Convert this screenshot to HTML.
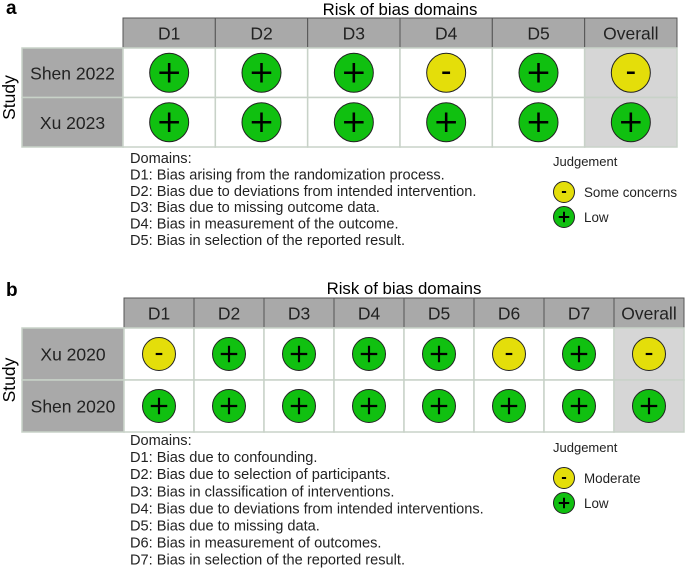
<!DOCTYPE html>
<html><head><meta charset="utf-8"><style>
body{margin:0;background:#fff;}
svg{display:block;font-family:"Liberation Sans",sans-serif;}
</style></head><body>
<svg id="s" width="685" height="570" viewBox="0 0 685 570"></svg>
<script>
const panelALabels=["D1","D2","D3","D4","D5","Overall"];
const panelAStudies=["Shen 2022","Xu 2023"];
const panelAJudgements=[["+","+","+","-","+","-"],["+","+","+","+","+","+"]];
const panelADomains=["Domains:","D1: Bias arising from the randomization process.","D2: Bias due to deviations from intended intervention.","D3: Bias due to missing outcome data.","D4: Bias in measurement of the outcome.","D5: Bias in selection of the reported result."];
const panelALegend=[["-","Some concerns"],["+","Low"]];
const panelBLabels=["D1","D2","D3","D4","D5","D6","D7","Overall"];
const panelBStudies=["Xu 2020","Shen 2020"];
const panelBJudgements=[["-","+","+","+","+","-","+","-"],["+","+","+","+","+","+","+","+"]];
const panelBDomains=["Domains:","D1: Bias due to confounding.","D2: Bias due to selection of participants.","D3: Bias in classification of interventions.","D4: Bias due to deviations from intended interventions.","D5: Bias due to missing data.","D6: Bias in measurement of outcomes.","D7: Bias in selection of the reported result."];
const panelBLegend=[["-","Moderate"],["+","Low"]];

const s=document.getElementById('s');
const NS="http://www.w3.org/2000/svg";
function el(tag,attrs,text){const e=document.createElementNS(NS,tag);for(const k in attrs)e.setAttribute(k,attrs[k]);if(text!==undefined)e.textContent=text;s.appendChild(e);return e;}
const col={"+":"#10c010","-":"#e4de0a"};
function symbol(cx,cy,r,j,name){
  const c=el('circle',{cx:cx,cy:cy,r:r,fill:col[j],stroke:"#222","stroke-width":1});
  
  
  if(j==="+"){
    const a=r*0.5, w=Math.max(2,r*0.13);
    const p=el('path',{d:`M${cx-a} ${cy}H${cx+a}M${cx} ${cy-a}V${cy+a}`,stroke:"#000","stroke-width":w});
    
    
  } else {
    const a=r*0.2, w=Math.max(2,r*0.13);
    const p=el('path',{d:`M${cx-a} ${cy}H${cx+a}`,stroke:"#000","stroke-width":w});
    
    
  }
}
function panel(o){
  const {id,labels,studies,judg,domains,legend,x0,x1,hy0,hy1,rowH,r,titleY,letterY,domY,domStep,legY}=o;
  const cw=(x1-x0)/labels.length;
  let t=el('text',{x:6,y:letterY,"font-size":19,"font-weight":"bold"},id);
  
  t=el('text',{x:(x0+x1)/2,y:titleY,"font-size":16.8,"text-anchor":"middle"},"Risk of bias domains");
  
  const yTop=hy1, yBot=hy1+rowH*studies.length;
  t=el('text',{x:0,y:0,"font-size":17.5,"text-anchor":"middle",transform:`translate(15,${(yTop+yBot)/2}) rotate(-90)`},"Study");
  
  labels.forEach((L,i)=>{
    const x=x0+i*cw;
    let rc=el('rect',{x:x,y:hy0,width:cw,height:hy1-hy0,fill:"#a9a9a9",stroke:"#555","stroke-width":1});
    
    let tt=el('text',{x:x+cw/2,y:(hy0+hy1)/2+6.5,"font-size":17.5,"text-anchor":"middle",fill:"#222"},L);
    
  });
  studies.forEach((S,ri)=>{
    const y=yTop+ri*rowH;
    let rc=el('rect',{x:22,y:y,width:x0-22,height:rowH,fill:"#a9a9a9",stroke:"#c8d2c8","stroke-width":1.5});
    
    let tt=el('text',{x:(22+x0)/2,y:y+rowH/2+6.5,"font-size":17.5,"text-anchor":"middle",fill:"#222"},S);
    
    labels.forEach((L,i)=>{
      const x=x0+i*cw;
      let c=el('rect',{x:x,y:y,width:cw,height:rowH,fill:i===labels.length-1?"#d6d6d6":"#fff",stroke:"#c8d2c8","stroke-width":1.5});
      
      symbol(x+cw/2,y+rowH/2,r,judg[ri][i],'panel-'+id+'-judgement');
    });
  });
  domains.forEach((d,i)=>{
    let tt=el('text',{x:130,y:domY+i*domStep,"font-size":14.6,fill:"#222"},d);
    
  });
  let tt=el('text',{x:553,y:legY,"font-size":13,fill:"#222"},"Judgement");
  
  legend.forEach((l,i)=>{
    const cy=legY+26+i*25;
    symbol(564,cy,10.5,l[0],'panel-'+id+'-legend-symbol');
    let t2=el('text',{x:584,y:cy+5,"font-size":13.4,fill:"#222"},l[1]);
    
  });
}
panel({id:"a",labels:panelALabels,studies:panelAStudies,judg:panelAJudgements,domains:panelADomains,legend:panelALegend,x0:123,x1:677,hy0:18,hy1:48,rowH:49.5,r:19.5,titleY:15,letterY:14,domY:163,domStep:16.4,legY:166});
panel({id:"b",labels:panelBLabels,studies:panelBStudies,judg:panelBJudgements,domains:panelBDomains,legend:panelBLegend,x0:124,x1:684,hy0:298,hy1:328,rowH:52,r:16.5,titleY:294,letterY:296,domY:445,domStep:17.1,legY:452});
</script>
</body></html>
